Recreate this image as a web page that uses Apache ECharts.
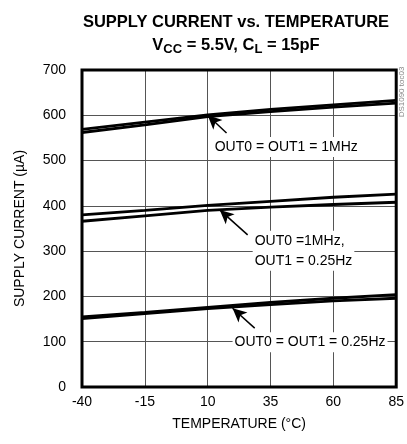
<!DOCTYPE html>
<html>
<head>
<meta charset="utf-8">
<script src="https://cdn.jsdelivr.net/npm/echarts@6/dist/echarts.min.js"></script>
<style>html,body{margin:0;padding:0;background:#fff}#c{width:407px;height:444px}</style>
</head>
<body>
<div id="c"></div>
<script>
var temps = [-40, -15, 10, 35, 60, 85];
var xTicks = [-40, -15, 10, 35, 60, 85];
var yTicks = [0, 100, 200, 300, 400, 500, 600, 700];
var both1MHzA = [569, 585, 601, 613, 623, 633];
var both1MHzB = [562, 579, 597, 608, 618, 627];
var mixedA = [380, 390, 401, 410, 419, 426];
var mixedB = [366, 378, 390, 397, 403, 408];
var bothLowA = [155, 165, 176, 187, 196, 204];
var bothLowB = [151, 162, 173, 182, 190, 196];
// annotations: label anchor, arrow tail, arrow tip (temperature, current)
var annotLabels = ['OUT0 = OUT1 = 1MHz', 'OUT0 =1MHz,\nOUT1 = 0.25Hz', 'OUT0 = OUT1 = 0.25Hz'];
var annotLabelPos = [[12.0, 530], [27.9, 301], [19.9, 99]];
var annotTail = [[17.5, 561], [25.9, 336], [28.7, 130]];
var annotTip = [[10.0, 600], [14.8, 391], [19.9, 174]];

var FONT = 'Liberation Sans, Arial, sans-serif';
function pairs(v) { return temps.map(function (t, i) { return [t, v[i]]; }); }
var seriesData = [both1MHzA, both1MHzB, mixedA, mixedB, bothLowA, bothLowB];
var series = seriesData.map(function (v) {
  return {
    type: 'line', data: pairs(v), symbol: 'none', smooth: false,
    lineStyle: { color: '#000', width: 2.8 }, silent: true, z: 3
  };
});
series.push({
  type: 'scatter', data: [], silent: true,
  markLine: {
    silent: true, symbol: ['none', 'arrow'], symbolSize: [10, 14],
    lineStyle: { color: '#000', width: 1.5, type: 'solid' },
    label: { show: false },
    data: annotTail.map(function (t, i) {
      return [{ coord: t }, { coord: annotTip[i] }];
    })
  },
  markPoint: {
    silent: true, symbol: 'circle', symbolSize: 0,
    label: {
      show: true, position: 'right', distance: 0,
      color: '#000', fontFamily: FONT, fontSize: 14, lineHeight: 20,
      backgroundColor: '#fff', padding: [0, 2],
      formatter: function (p) { return p.name; }
    },
    data: annotLabelPos.map(function (c, i) { return { name: annotLabels[i], coord: c }; })
  },
  z: 5
});

var chart = echarts.init(document.getElementById('c'), null, { renderer: 'canvas' });
chart.setOption({
  animation: false,
  backgroundColor: '#fff',
  grid: { left: 82, right: 9, top: 70, bottom: 57, show: true, borderColor: '#000', borderWidth: 3, backgroundColor: 'transparent', z: 10 },
  xAxis: {
    type: 'value', min: xTicks[0], max: xTicks[xTicks.length - 1], interval: 25,
    name: 'TEMPERATURE (°C)', nameLocation: 'middle', nameGap: 30,
    nameTextStyle: { color: '#000', fontFamily: FONT, fontSize: 14 },
    axisLine: { show: false }, axisTick: { show: false },
    axisLabel: { color: '#000', fontFamily: FONT, fontSize: 14, margin: 8 },
    splitLine: { show: true, lineStyle: { color: '#555', width: 1 } }
  },
  yAxis: {
    type: 'value', min: yTicks[0], max: yTicks[yTicks.length - 1], interval: 100,
    name: 'SUPPLY CURRENT (µA)', nameLocation: 'middle', nameGap: 55,
    nameTextStyle: { color: '#000', fontFamily: FONT, fontSize: 14 },
    axisLine: { show: false }, axisTick: { show: false },
    axisLabel: { color: '#000', fontFamily: FONT, fontSize: 14, margin: 16 },
    splitLine: { show: true, lineStyle: { color: '#555', width: 1 } }
  },
  graphic: [
    {
      type: 'text', x: 236, y: 22, z: 20,
      style: { text: 'SUPPLY CURRENT vs. TEMPERATURE', align: 'center', verticalAlign: 'middle',
        fill: '#000', font: 'bold 16.5px ' + FONT }
    },
    {
      type: 'text', x: 236, y: 45, z: 20,
      style: {
        text: '{b|V}{s|CC}{b| = 5.5V, C}{s|L}{b| = 15pF}', align: 'center', verticalAlign: 'middle',
        rich: {
          b: { fontFamily: FONT, fontWeight: 'bold', fontSize: 16.5, lineHeight: 22, fill: '#000', color: '#000' },
          s: { fontFamily: FONT, fontWeight: 'bold', fontSize: 13, lineHeight: 22, verticalAlign: 'bottom', padding: [6, 0, 0, 0], fill: '#000', color: '#000' }
        }
      }
    },
    {
      type: 'text', x: 402, y: 92, rotation: Math.PI / 2, z: 20,
      style: { text: 'DS1090 toc03', align: 'center', verticalAlign: 'middle', fill: '#888', font: '8px ' + FONT }
    }
  ],
  series: series
});
</script>
</body>
</html>
